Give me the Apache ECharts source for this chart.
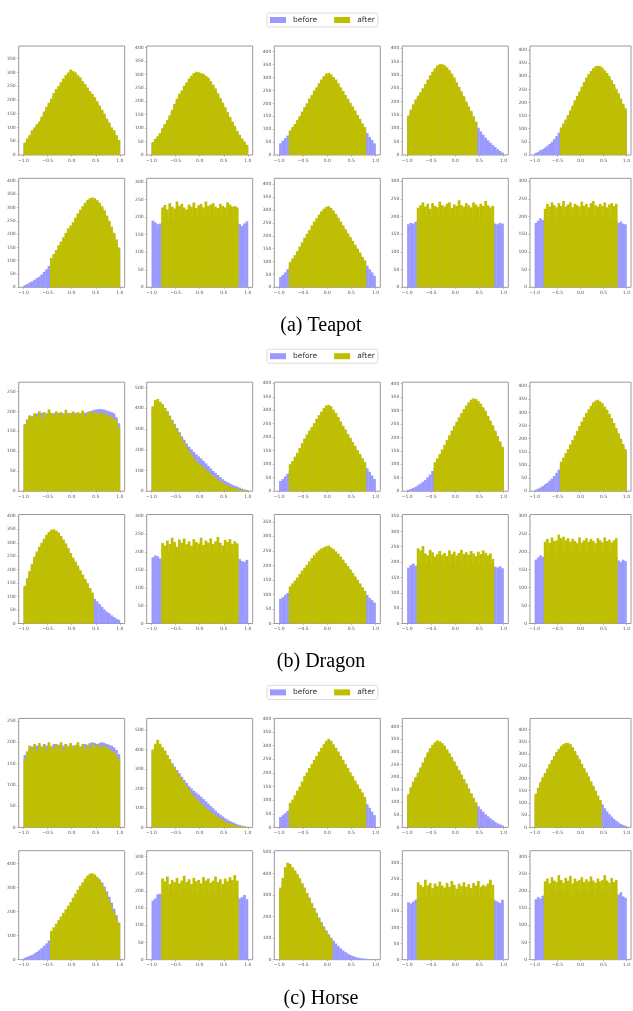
<!DOCTYPE html>
<html><head><meta charset="utf-8">
<script src="https://cdn.jsdelivr.net/npm/echarts@6/dist/echarts.min.js"></script>
<style>html,body{margin:0;padding:0;background:#fff}#c{width:633px;height:1011px}</style>
</head><body><div id="c"></div>
<script>
// ---------- DATA (40 bins from -1 to 1, width 0.05) ----------
const binStart = -1.0, binWidth = 0.05;
const xTicks = [-1.0, -0.5, 0.0, 0.5, 1.0];
const seriesNames = ['before', 'after'];
const captions = ['(a) Teapot', '(b) Dragon', '(c) Horse'];

// (a) Teapot
const tB1 = [42,55,68,82,95,105,118,132,150,165,180,195,212,228,240,252,262,272,280,285,288,286,280,272,262,250,238,225,212,200,188,172,158,142,128,112,98,82,68,52];
const tA1 = [45,60,72,90,100,112,122,140,158,175,190,205,225,240,250,265,278,290,300,310,305,300,290,282,268,258,245,232,222,210,195,180,165,150,132,118,100,90,72,55];
const tB2 = [45,58,65,78,95,110,125,140,160,180,200,215,230,245,258,270,282,292,298,300,300,298,292,282,270,255,240,222,205,188,170,152,135,118,100,85,70,58,45,35];
const tA2 = [48,60,70,82,100,115,130,148,168,190,210,228,240,258,270,285,295,305,310,308,305,302,295,288,275,262,248,230,212,195,178,160,142,125,108,90,75,62,50,38];
const tB3 = [45,55,65,75,85,98,110,125,140,158,175,190,205,220,235,250,265,280,292,300,305,300,290,280,265,250,235,220,205,190,175,160,142,128,112,98,85,70,58,45];
const tA3 = [95,108,120,135,150,168,185,200,218,232,250,262,278,292,305,315,318,312,302,292,278,262,248,232,218,202,188,172,155,140,122,108];
const tB4 = [140,160,180,198,212,225,240,255,270,285,298,310,320,326,328,325,318,308,295,280,262,245,228,210,192,175,158,140,122,102,88,76,65,55,46,38,30,22,15,9];
const tA4 = [148,170,190,208,222,235,250,265,282,298,312,325,335,340,340,336,328,318,305,290,272,255,238,220,200,182,165,145,125];
const tB5 = [8,12,18,22,28,35,42,50,60,72,85,98,112,128,145,162,180,198,215,232,248,265,280,292,305,315,322,325,325,320,312,302,290,278,262,245,228,210,190,170];
const tA5 = [105,120,135,152,170,188,208,225,242,260,278,295,308,320,330,338,340,338,332,322,312,300,285,270,252,235,215,195,178];
const tB6 = [8,12,18,22,28,35,40,48,58,68,80,92,108,122,138,152,168,182,198,212,225,240,255,270,285,298,308,315,320,322,320,312,300,285,265,245,222,200,175,145];
const tA6 = [110,125,140,158,172,188,205,222,232,245,262,278,292,305,318,328,335,338,335,328,318,305,290,270,250,228,205,180,150];
const tB7 = [190,185,180,182,185,188,190,192,195,190,195,198,192,196,200,194,198,195,200,192,196,198,194,200,195,192,198,194,190,196,192,188,192,190,185,188,180,175,182,188];
const tA7 = [228,235,222,240,230,225,245,232,238,228,222,236,230,242,226,234,238,228,245,232,236,240,230,226,238,232,228,242,236,230,232,228];
const tB8 = [40,48,58,70,82,95,108,122,138,155,172,188,202,218,232,248,262,275,288,298,302,298,288,276,262,248,232,218,202,188,172,158,142,128,112,98,84,70,58,45];
const tA8 = [98,112,125,140,158,175,192,208,222,240,255,268,282,295,305,312,315,308,298,285,270,255,240,225,210,195,180,165,150,135,118,105];
const tB9 = [178,182,180,185,190,195,192,198,194,200,196,192,198,202,195,198,194,200,196,192,198,195,200,194,198,192,196,198,194,190,196,192,188,192,190,185,180,178,182,180];
const tA9 = [225,232,240,228,236,222,238,230,226,242,232,228,236,240,224,234,230,246,232,228,238,232,226,240,234,228,236,230,244,232,226,230];
const tB10 = [182,188,195,190,185,192,196,190,198,194,200,196,192,198,194,200,196,190,198,195,192,198,194,200,196,190,198,194,192,196,190,194,188,192,186,190,182,186,180,178];
const tA10 = [222,236,228,240,232,226,238,230,244,228,234,240,226,236,232,228,242,230,236,226,238,244,232,228,236,230,240,226,234,238,230,236];
const tStart = [0,0,4,0,11,11,4,4,4,4];
const tYMax = [396,406,422,408,415,410,311,423,308,308];
const tYStep = [50,50,50,50,50,50,50,50,50,50];
const tYTop = [350,400,400,400,400,400,300,400,300,300];

// (b) Dragon
const dB1 = [168,178,185,188,192,195,194,196,192,195,194,196,195,193,196,194,195,192,196,194,195,196,193,195,194,196,198,200,202,204,205,206,205,204,202,200,198,195,185,170];
const dA1 = [165,180,190,185,195,188,200,182,198,190,205,196,188,200,194,198,190,204,192,196,200,190,198,195,202,188,196,200,194,198,196,192,198,190,194,188,186,180,178,160];
const dB2 = [405,420,430,425,415,400,385,365,345,325,305,285,265,248,230,215,202,190,178,168,158,146,134,122,110,98,88,78,68,58,50,43,37,31,26,22,17,12,8,5];
const dA2 = [410,440,445,432,420,402,385,362,340,318,298,278,255,235,215,195,178,160,145,132,125,115,104,94,84,74,65,56,48,40,33,28,23,18,14,11,8,6,4,3];
const dB3 = [38,45,55,65,75,88,100,115,130,148,165,182,198,212,228,242,258,272,285,295,300,296,288,276,262,248,232,218,202,188,172,158,142,128,112,98,85,72,58,45];
const dA3 = [100,112,128,142,160,178,195,210,225,238,252,268,282,295,308,318,320,315,302,290,275,258,242,228,212,198,182,168,152,138,122,108];
const dB4 = [5,8,12,16,22,28,35,42,52,62,75,88,102,118,132,148,165,182,200,218,235,250,265,280,292,305,315,322,325,322,315,305,290,272,255,238,220,200,180,160];
const dA4 = [108,122,138,155,172,190,208,225,242,258,275,290,305,318,330,340,345,342,335,325,312,298,280,262,245,225,205,185,165];
const dB5 = [6,10,14,20,26,32,40,48,58,70,82,95,110,125,140,158,175,192,210,228,245,262,278,292,305,315,322,325,322,315,305,292,278,262,245,228,210,190,172,152];
const dA5 = [112,128,145,160,178,195,212,230,248,265,282,298,312,325,338,345,348,342,335,322,310,295,278,260,240,220,200,180,160];
const dB6 = [135,160,185,210,235,255,272,288,305,318,328,335,338,335,328,318,305,290,272,255,238,222,206,190,175,160,145,128,112,92,82,72,62,52,44,38,30,24,18,14];
const dA6 = [140,168,195,222,248,268,285,300,315,330,340,348,350,345,338,325,312,298,280,262,245,230,215,198,182,166,150,132,115];
const dB7 = [185,190,188,182,178,185,190,195,192,198,194,200,196,192,198,194,200,196,192,198,194,200,196,192,198,194,196,192,198,194,190,196,192,188,192,186,180,175,172,178];
const dA7 = [225,218,232,222,240,228,215,235,226,238,222,230,218,236,228,224,240,220,232,226,238,222,230,242,226,218,234,228,236,222,230,224];
const dB8 = [85,90,98,105,112,120,130,140,150,160,170,180,190,200,210,218,225,232,238,242,245,242,238,232,225,218,210,200,190,180,168,158,145,135,122,110,98,88,80,72];
const dA8 = [128,138,148,158,170,182,192,202,214,225,235,244,252,258,262,266,268,262,256,248,240,230,220,208,198,186,174,162,150,138,125,112];
const dB9 = [182,190,195,188,185,190,196,192,198,194,190,196,192,198,194,190,196,192,198,194,190,196,192,198,194,190,196,192,198,194,190,196,192,188,192,190,185,182,186,180];
const dA9 = [245,238,252,228,222,240,232,218,226,236,224,230,220,238,226,234,222,230,240,226,232,224,236,228,220,234,226,238,230,222,228,210];
const dB10 = [178,184,190,186,182,188,194,190,196,192,198,194,190,196,192,198,194,190,196,192,198,194,190,196,192,198,194,190,196,192,188,194,190,186,190,184,176,172,178,174];
const dA10 = [228,236,225,240,230,232,248,238,242,232,238,228,236,230,224,240,226,232,238,228,236,230,224,238,232,226,240,230,234,226,232,238];
const dStart = [0,0,4,11,11,0,4,4,4,4];
const dYMax = [273,526,404,405,415,405,305,375,355,304];
const dYStep = [50,100,50,50,50,50,50,50,50,50];
const dYTop = [250,500,400,400,400,400,300,350,350,300];

// (c) Horse
const hB1 = [170,178,185,190,188,192,194,190,196,192,194,190,196,192,194,190,192,196,190,194,192,188,194,190,192,196,194,198,200,198,196,198,200,198,196,194,192,188,182,172];
const hA1 = [160,178,192,185,196,180,198,188,194,182,200,190,186,196,188,200,182,196,190,198,186,194,200,188,196,184,192,188,196,190,194,186,192,190,188,184,180,176,168,160];
const hB2 = [395,410,420,412,400,385,368,350,330,312,295,278,260,244,228,212,200,188,178,168,158,146,134,122,110,98,86,75,65,56,47,40,33,27,21,16,12,8,5,3];
const hA2 = [400,430,450,430,412,395,372,350,325,305,285,265,248,230,212,195,178,162,148,135,124,112,100,90,80,70,60,52,44,37,30,25,20,16,12,9,7,5,3,2];
const hB3 = [38,45,52,60,68,80,95,110,128,145,162,178,195,212,228,245,260,275,288,298,305,300,290,280,266,252,236,220,205,190,175,160,145,130,115,100,85,72,58,45];
const hA3 = [90,102,118,135,150,168,188,202,218,232,248,262,278,292,305,318,325,318,305,292,278,262,248,232,218,202,188,172,158,142,128,112];
const hB4 = [125,150,172,192,210,228,248,268,288,305,318,328,332,330,324,315,302,288,272,256,240,222,205,188,170,152,134,116,98,84,72,62,52,44,36,29,22,16,12,8];
const hA4 = [132,160,182,200,218,238,258,278,298,315,328,338,345,342,335,325,310,295,280,262,245,228,210,192,175,155,135,118,100];
const hB5 = [130,155,178,198,215,232,250,268,285,300,312,322,330,335,335,330,320,305,288,270,252,235,218,200,182,164,146,128,110,94,78,65,54,44,35,27,20,14,10,7];
const hA5 = [138,162,185,205,222,240,258,276,292,308,320,332,340,345,345,340,328,312,295,278,260,242,225,208,188,170,150,130,112];
const hB6 = [8,12,16,20,26,32,40,48,58,68,80,92,106,120,135,150,166,182,198,214,230,248,265,282,298,312,325,335,342,345,342,335,322,305,285,262,238,212,185,155];
const hA6 = [120,135,150,165,180,195,210,225,240,258,275,292,308,322,338,350,358,360,355,345,332,315,295,272,248,222,198,172,152];
const hB7 = [172,178,190,192,188,185,190,196,192,198,194,190,196,192,198,194,190,196,192,198,194,190,196,192,198,194,190,196,192,198,194,190,196,192,188,185,178,182,188,176];
const hA7 = [236,228,242,220,232,226,238,222,230,244,226,234,220,238,228,232,222,240,230,236,224,230,242,226,234,220,236,228,240,232,246,230];
const hB8 = [325,360,400,420,425,418,405,390,372,352,330,308,285,262,240,218,196,175,155,136,118,102,88,75,63,52,43,35,28,22,17,13,10,8,6,5,4,3,2,1];
const hA8 = [335,380,430,450,445,430,415,398,378,355,335,310,288,262,238,215,192,170,150,130,112,96];
const hB9 = [178,174,180,186,190,196,192,198,194,190,196,192,198,194,190,196,192,198,194,190,196,192,198,194,190,196,192,198,194,190,196,192,188,192,186,190,184,180,176,186];
const hA9 = [240,232,226,248,230,238,222,236,228,242,230,224,238,226,244,232,220,236,228,240,226,234,222,238,230,244,226,232,228,236,248,232];
const hB10 = [176,182,178,186,190,194,190,196,192,198,194,190,196,192,198,194,190,196,192,198,194,190,196,192,198,194,190,196,192,198,194,190,196,188,192,186,190,196,184,180];
const hA10 = [228,236,222,240,230,226,246,232,224,238,230,244,222,236,228,232,240,226,234,228,242,230,224,236,228,232,246,230,224,238,226,232];
const hStart = [0,0,4,0,0,11,4,0,4,4];
const hYMax = [256,560,400,433,445,454,317,506,338,317];
const hYStep = [50,100,50,50,50,100,50,100,50,50];
const hYTop = [250,500,400,400,400,400,300,500,300,300];

// ---------- BUILD ----------
const groups = [
  {before:[tB1,tB2,tB3,tB4,tB5,tB6,tB7,tB8,tB9,tB10], after:[tA1,tA2,tA3,tA4,tA5,tA6,tA7,tA8,tA9,tA10], start:tStart, yMax:tYMax, yStep:tYStep, yTop:tYTop},
  {before:[dB1,dB2,dB3,dB4,dB5,dB6,dB7,dB8,dB9,dB10], after:[dA1,dA2,dA3,dA4,dA5,dA6,dA7,dA8,dA9,dA10], start:dStart, yMax:dYMax, yStep:dYStep, yTop:dYTop},
  {before:[hB1,hB2,hB3,hB4,hB5,hB6,hB7,hB8,hB9,hB10], after:[hA1,hA2,hA3,hA4,hA5,hA6,hA7,hA8,hA9,hA10], start:hStart, yMax:hYMax, yStep:hYStep, yTop:hYTop}
];
const colLeft = [18.7, 146.7, 274.3, 402.3, 530];
const rowTop = [46, 178.3];
const groupShift = 336.2;
const panelW = 106, panelH = 109;
const colorBefore = '#9999ff', colorAfter = '#bfbf00';

function toBins(values, start) {
  return values.map((v, k) => { const i = start + k; return [binStart + i * binWidth, binStart + (i + 1) * binWidth, v]; });
}
function renderItem(params, api) {
  const a = api.coord([api.value(0), api.value(2)]);
  const b = api.coord([api.value(1), 0]);
  return {type: 'rect', shape: {x: a[0], y: a[1], width: b[0] - a[0] + 0.35, height: b[1] - a[1]}, style: {fill: api.visual('color')}};
}
const fmtX = v => (v < 0 ? '\u2212' : '') + Math.abs(v).toFixed(1);

const grid = [], xAxis = [], yAxis = [], series = [], legend = [], graphic = [];
groups.forEach((g, gi) => {
  for (let p = 0; p < 10; p++) {
    const idx = gi * 10 + p;
    const row = Math.floor(p / 5), col = p % 5;
    grid.push({left: colLeft[col], top: rowTop[row] + gi * groupShift, width: panelW, height: panelH,
      show: true, borderColor: '#9a9a9a', borderWidth: 1, backgroundColor: 'transparent', containLabel: false});
    xAxis.push({type: 'value', gridIndex: idx, min: -1.1, max: 1.1, position: 'bottom',
      axisLine: {show: false, onZero: false}, splitLine: {show: false},
      axisTick: {show: true, length: 1.5, lineStyle: {color: '#888', width: 0.6}, customValues: xTicks},
      axisLabel: {show: true, fontSize: 4.5, color: '#555', margin: 3, fontFamily: 'DejaVu Sans', customValues: xTicks, formatter: fmtX}});
    const yt = [];
    for (let v = 0; v <= g.yTop[p]; v += g.yStep[p]) yt.push(v);
    yAxis.push({type: 'value', gridIndex: idx, min: 0, max: g.yMax[p], position: 'left',
      axisLine: {show: false, onZero: false}, splitLine: {show: false},
      axisTick: {show: true, length: 1.5, lineStyle: {color: '#888', width: 0.6}, customValues: yt},
      axisLabel: {show: true, fontSize: 4.5, color: '#555', margin: 3, fontFamily: 'DejaVu Sans', customValues: yt}});
    series.push({type: 'custom', name: seriesNames[0], xAxisIndex: idx, yAxisIndex: idx, z: 2,
      itemStyle: {color: colorBefore}, encode: {x: [0, 1], y: 2}, renderItem: renderItem,
      data: toBins(g.before[p], 0)});
    series.push({type: 'custom', name: seriesNames[1], xAxisIndex: idx, yAxisIndex: idx, z: 3,
      itemStyle: {color: colorAfter}, encode: {x: [0, 1], y: 2}, renderItem: renderItem,
      data: toBins(g.after[p], g.start[p])});
  }
  legend.push({top: 13 + gi * groupShift, left: 267, orient: 'horizontal', data: seriesNames,
    icon: 'rect', itemWidth: 16, itemHeight: 6, itemGap: 17, padding: [3, 3, 3, 3],
    borderColor: '#dddddd', borderWidth: 1, borderRadius: 2, selectedMode: false,
    textStyle: {fontSize: 7.5, color: '#333', fontFamily: 'DejaVu Sans', padding: [0, 0, 0, 2]}});
  graphic.push({type: 'text', x: 321, y: 326 + gi * groupShift,
    style: {text: captions[gi], fill: '#000', fontSize: 20, fontFamily: 'Liberation Serif', textAlign: 'center', textVerticalAlign: 'middle'}});
});

const chart = echarts.init(document.getElementById('c'), null, {renderer: 'canvas'});
chart.setOption({animation: false, backgroundColor: '#fff', grid, xAxis, yAxis, series, legend, graphic});
</script>
</body></html>
